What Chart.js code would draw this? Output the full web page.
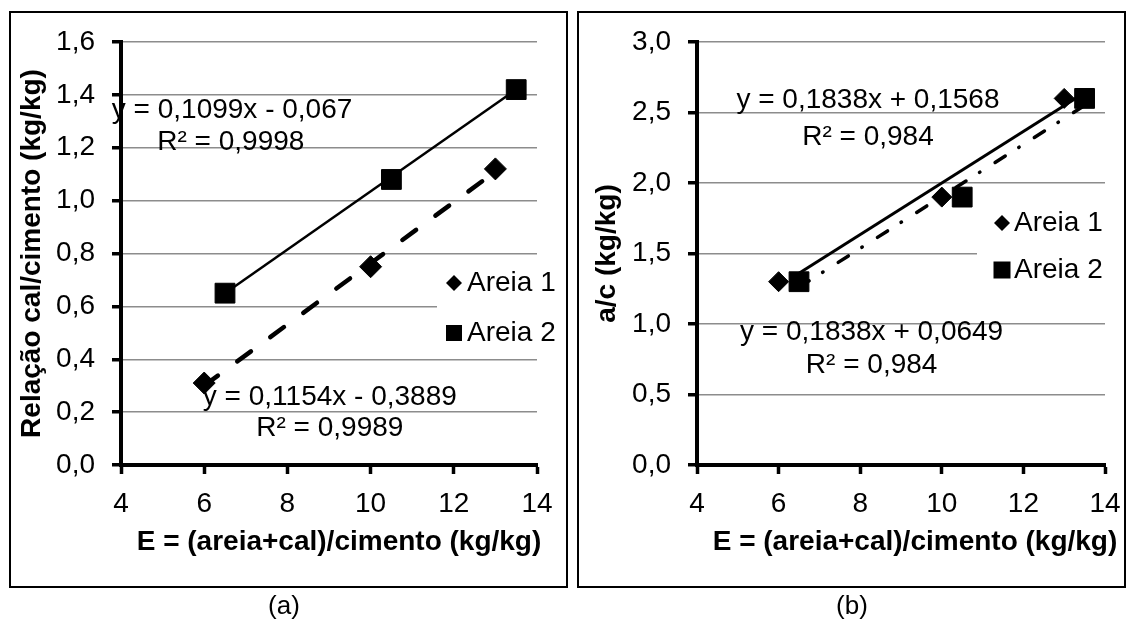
<!DOCTYPE html>
<html lang="pt">
<head>
<meta charset="utf-8">
<title>Relação cal/cimento e a/c</title>
<script src="https://cdn.jsdelivr.net/npm/chart.js@4.4.1/dist/chart.umd.min.js"></script>
<style>
  html, body { margin: 0; padding: 0; background: #fff; }
  body { width: 1128px; height: 621px; position: relative; overflow: hidden;
         font-family: "Liberation Sans", Arial, sans-serif; }
  .caixa { position: absolute; top: 11px; height: 577px; border: 2px solid #000; box-sizing: border-box; }
  canvas { position: absolute; top: 0; }
  .rotulo { position: absolute; top: 590px; width: 120px; text-align: center;
            font-size: 26px; line-height: 30px; color: #000; }
</style>
</head>
<body>
<div class="caixa" style="left:9px;width:559px"></div>
<div class="caixa" style="left:577px;width:549px"></div>
<canvas id="graficoA" width="572" height="621" style="left:0;width:572px;height:621px"></canvas>
<canvas id="graficoB" width="556" height="621" style="left:572px;width:556px;height:621px"></canvas>
<div class="rotulo" style="left:224px">(a)</div>
<div class="rotulo" style="left:792px">(b)</div>
<script>
// --- dados ---
const areia1X = [6, 10, 13];
const areia2X = [6.5, 10.5, 13.5];

// (a) relação cal/cimento
const relacaoAreia1 = [0.31, 0.75, 1.12];
const relacaoAreia2 = [0.65, 1.08, 1.42];
// linhas de tendência (extremos)
const tendRelacao1X = [6, 13];
const tendRelacao1Y = [0.30, 1.11];
const tendRelacao2X = [6.5, 13.5];
const tendRelacao2Y = [0.65, 1.42];

// (b) a/c
const acAreia1 = [1.3, 1.9, 2.6];
const acAreia2 = [1.3, 1.9, 2.6];
const tendAc1X = [6.5, 13.5];
const tendAc1Y = [1.36, 2.64];
const tendAc2X = [6.5, 13.5];
const tendAc2Y = [1.26, 2.55];

// eixos
const ticksX = [4, 6, 8, 10, 12, 14];
const ticksRelacao = [0, 0.2, 0.4, 0.6, 0.8, 1.0, 1.2, 1.4, 1.6];
const ticksAc = [0, 0.5, 1.0, 1.5, 2.0, 2.5, 3.0];

const equacoesA = ["y = 0,1099x - 0,067", "R² = 0,9998", "y = 0,1154x - 0,3889", "R² = 0,9989"];
const equacoesB = ["y = 0,1838x + 0,1568", "R² = 0,984", "y = 0,1838x + 0,0649", "R² = 0,984"];
const nomesSeries = ["Areia 1", "Areia 2"];

const FONTE = '"Liberation Sans", Arial, sans-serif';
Chart.defaults.font.family = FONTE;
Chart.defaults.color = "#000";

function pares(xs, ys) {
  return xs.map((x, i) => ({ x: x, y: ys[i] }));
}

function virgula(v) {
  return Number(v).toFixed(1).replace(".", ",");
}

// escreve equações, legenda e título do eixo x
const textosPlugin = {
  id: "textos",
  afterDatasetsDraw(chart, args, opts) {
    const ctx = chart.ctx;
    const sx = chart.scales.x, sy = chart.scales.y;
    ctx.save();
    ctx.fillStyle = "#000";
    ctx.textAlign = "center";
    ctx.textBaseline = "middle";
    ctx.font = "28px " + FONTE;
    opts.rotulos.forEach((r) => {
      ctx.fillText(r.texto, sx.getPixelForValue(r.x), sy.getPixelForValue(r.y));
    });

    // legenda
    const L = opts.legenda;
    ctx.fillStyle = "#fff";
    ctx.fillRect(L.caixa[0], L.caixa[1], L.caixa[2], L.caixa[3]);
    ctx.fillStyle = "#000";
    const r = L.losango;
    ctx.beginPath();
    ctx.moveTo(L.mx - r, L.y1);
    ctx.lineTo(L.mx, L.y1 - r);
    ctx.lineTo(L.mx + r, L.y1);
    ctx.lineTo(L.mx, L.y1 + r);
    ctx.closePath();
    ctx.fill();
    ctx.fillRect(L.mx - L.quadrado / 2, L.y2 - L.quadrado / 2, L.quadrado, L.quadrado);
    ctx.textAlign = "left";
    ctx.font = "28px " + FONTE;
    ctx.fillText(nomesSeries[0], L.tx, L.y1);
    ctx.fillText(nomesSeries[1], L.tx, L.y2);

    // título do eixo x
    ctx.textAlign = "center";
    ctx.font = "bold 28px " + FONTE;
    ctx.fillText(opts.tituloX, opts.tituloPos[0], opts.tituloPos[1]);
    ctx.restore();
  }
};

function eixoX() {
  return {
    type: "linear",
    min: 4,
    max: 14,
    afterBuildTicks: (s) => { s.ticks = ticksX.map((v) => ({ value: v })); },
    afterFit: (s) => { s.height = 156; s.paddingLeft = 0; s.paddingRight = 0; },
    grid: { drawOnChartArea: false, drawTicks: true, tickLength: 9, tickColor: "#000", tickWidth: 3.5 },
    border: { color: "#000", width: 4 },
    ticks: { font: { size: 28 }, color: "#000", padding: 13, maxRotation: 0, autoSkip: false }
  };
}

function eixoY(max, lista, titulo, largura) {
  return {
    type: "linear",
    min: 0,
    max: max,
    afterBuildTicks: (s) => { s.ticks = lista.map((v) => ({ value: v })); },
    afterFit: (s) => { s.width = largura; s.paddingTop = 0; s.paddingBottom = 0; },
    grid: { color: "#8c8c8c", lineWidth: 1.5, tickLength: 9, tickColor: "#000", tickWidth: 3.5 },
    border: { color: "#000", width: 4 },
    ticks: { font: { size: 28 }, color: "#000", padding: 17, callback: (v) => virgula(v) },
    title: { display: true, text: titulo, color: "#000", font: { size: 28, weight: "bold" }, padding: { top: 3, bottom: 3 } }
  };
}

function pontos(xs, ys, estilo, raio) {
  return {
    data: pares(xs, ys),
    pointStyle: estilo,
    pointRadius: raio,
    backgroundColor: "#000",
    borderColor: "#000",
    borderWidth: 1,
    order: 0
  };
}

function tendencia(xs, ys, largura, tracejado, ponta) {
  return {
    data: pares(xs, ys),
    showLine: true,
    pointRadius: 0,
    borderColor: "#000",
    borderWidth: largura,
    borderDash: tracejado,
    borderCapStyle: ponta,
    order: 1
  };
}

function opcoesBase(padding, escalas, textos) {
  return {
    responsive: false,
    animation: false,
    events: [],
    devicePixelRatio: 1,
    layout: { padding: padding },
    scales: escalas,
    plugins: { legend: { display: false }, tooltip: { enabled: false }, textos: textos }
  };
}

new Chart(document.getElementById("graficoA"), {
  type: "scatter",
  data: {
    datasets: [
      pontos(areia1X, relacaoAreia1, "rectRot", 11),
      pontos(areia2X, relacaoAreia2, "rect", 14),
      tendencia(tendRelacao1X, tendRelacao1Y, 4.5, [17, 24], "round"),
      tendencia(tendRelacao2X, tendRelacao2Y, 2.5, [], "butt")
    ]
  },
  options: opcoesBase(
    { left: 12, top: 42, right: 35, bottom: 0 },
    { x: eixoX(), y: eixoY(1.6, ticksRelacao, "Relação cal/cimento (kg/kg)", 109) },
    {
      rotulos: [
        { texto: equacoesA[0], x: 6.67, y: 1.343 },
        { texto: equacoesA[1], x: 6.64, y: 1.222 },
        { texto: equacoesA[2], x: 9.02, y: 0.257 },
        { texto: equacoesA[3], x: 9.02, y: 0.14 }
      ],
      legenda: { caixa: [437, 262, 128, 90], mx: 454, tx: 467, y1: 283, y2: 333, losango: 8, quadrado: 16 },
      tituloX: "E = (areia+cal)/cimento (kg/kg)",
      tituloPos: [339, 542]
    }
  ),
  plugins: [textosPlugin]
});

new Chart(document.getElementById("graficoB"), {
  type: "scatter",
  data: {
    datasets: [
      pontos(areia1X, acAreia1, "rectRot", 10),
      pontos(areia2X, acAreia2, "rect", 14),
      tendencia(tendAc1X, tendAc1Y, 3, [], "butt"),
      tendencia(tendAc2X, tendAc2Y, 3.5, [12, 16, 0.5, 18], "round")
    ]
  },
  options: opcoesBase(
    { left: 15, top: 42, right: 23, bottom: 0 },
    { x: eixoX(), y: eixoY(3.0, ticksAc, "a/c (kg/kg)", 110) },
    {
      rotulos: [
        { texto: equacoesB[0], x: 8.19, y: 2.589 },
        { texto: equacoesB[1], x: 8.19, y: 2.326 },
        { texto: equacoesB[2], x: 8.28, y: 0.943 },
        { texto: equacoesB[3], x: 8.28, y: 0.709 }
      ],
      legenda: { caixa: [405, 200, 130, 92], mx: 430, tx: 442, y1: 223, y2: 270, losango: 8, quadrado: 17 },
      tituloX: "E = (areia+cal)/cimento (kg/kg)",
      tituloPos: [343, 542]
    }
  ),
  plugins: [textosPlugin]
});
</script>
</body>
</html>
